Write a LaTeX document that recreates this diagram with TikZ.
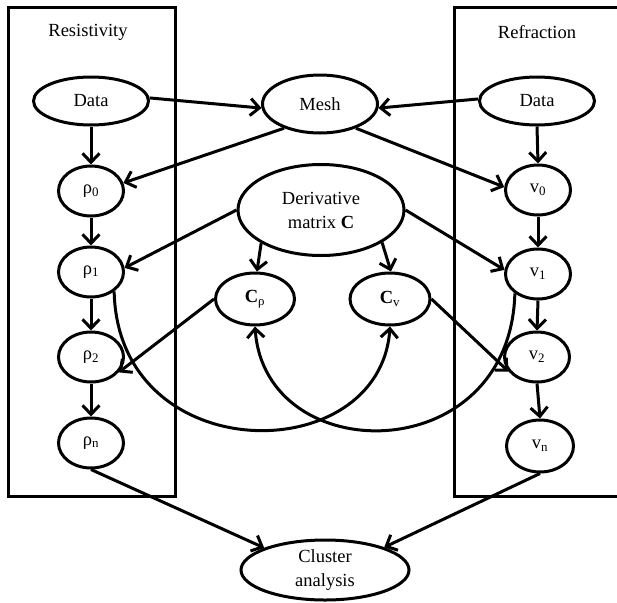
\documentclass[tikz,border=0pt]{standalone}
\usepackage{fontspec}
\setmainfont{Liberation Serif}
\usetikzlibrary{shapes.geometric,arrows.meta}
\newcommand\sbx[1]{\textsubscript{#1}}
\begin{document}
\begin{tikzpicture}[x=1pt,y=-1pt,
  every node/.style={font=\fontsize{18.5}{24}\selectfont},
  ell/.style={ellipse,draw,line width=3pt,inner sep=0pt,align=center},
  small/.style={ell,minimum width=65pt,minimum height=50pt},
  big/.style={ell,minimum width=115pt,minimum height=48pt},
  arr/.style={line width=3pt,-{Straight Barb[length=9pt,width=17pt]}},
  frame/.style={line width=3pt}]
\useasboundingbox (0,0) rectangle (617,602);
% frames
\draw[frame] (8,8) rectangle (175,496);
\draw[frame] (617,8) -- (454,8) -- (454,496) -- (617,496);
\node (tres) at (88,32) {Resistivity};
\node (tref) at (537,32) {Refraction};
% nodes
\node[big] (dataL) at (91,101) {Data};
\node[big] (dataR) at (537,101) {Data};
\node[big,minimum height=58pt] (mesh) at (320,104) {Mesh};
\node[ell,minimum width=166pt,minimum height=91pt] (deriv) at (321,210) {Derivative\\matrix \textbf{C}};
\node[small] (rho0) at (91,191) {ρ\sbx{0}};
\node[small] (rho1) at (91,272) {ρ\sbx{1}};
\node[small] (rho2) at (91,357) {ρ\sbx{2}};
\node[small] (rhon) at (91,443) {ρ\sbx{n}};
\node[small] (v0) at (538,190) {v\sbx{0}};
\node[small] (v1) at (538,274) {v\sbx{1}};
\node[small] (v2) at (537,357) {v\sbx{2}};
\node[small,minimum width=67pt,minimum height=52pt] (vn) at (540,446) {v\sbx{n}};
\node[ell,minimum width=79pt,minimum height=52pt] (crho) at (255,299) {\textbf{C}\sbx{ρ}};
\node[ell,minimum width=80pt,minimum height=52pt] (cv) at (390,299) {\textbf{C}\sbx{v}};
\node[ell,minimum width=168pt,minimum height=60pt] (clus) at (325,570) {Cluster\\analysis};
% connectors
\draw[arr] (dataL.3) -- (mesh.184);
\draw[arr] (dataR.178) -- (mesh.-4);
\draw[arr] (mesh.214) -- (rho0.14);
\draw[arr] (mesh.-34) -- (v0.175);
\draw[arr] (deriv.180) -- (rho1.7);
\draw[arr] (deriv.0) -- (v1.173);
\draw[arr] (deriv.209) -- (crho.86);
\draw[arr] (deriv.-28) -- (cv.88);
\draw[arr] (crho.180) -- (rho2.-29);
\draw[arr] (cv.0) -- (v2.207);
\draw[arr] (dataL.south) -- (rho0.north);
\draw[arr] (rho0.south) -- (rho1.north);
\draw[arr] (rho1.south) -- (rho2.north);
\draw[arr] (rho2.south) -- (rhon.north);
\draw[arr] (dataR.south) -- (v0.north);
\draw[arr] (v0.south) -- (v1.north);
\draw[arr] (v1.south) -- (v2.north);
\draw[arr] (v2.south) -- (vn.north);
\draw[arr] (rhon.south) -- (clus.160);
\draw[arr] (vn.south) -- (clus.21);
\draw[arr] (rho1.-40) .. controls (118,470) and (380,470) .. (cv.south);
\draw[arr] (v1.220) .. controls (510,470) and (265,470) .. (crho.south);
\end{tikzpicture}
\end{document}
